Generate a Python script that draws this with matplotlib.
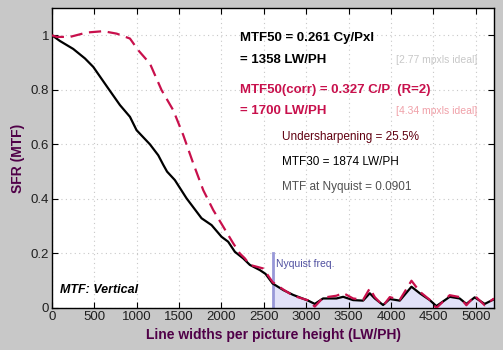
import matplotlib
matplotlib.use("Agg")
import matplotlib.pyplot as plt

# measured MTF (black) and corrected / standardized-sharpening MTF (red dashed)
freq = [0, 94, 250, 389, 487, 664, 802, 920, 998, 1156, 1254, 1313, 1358, 1450, 1588,
        1765, 1883, 2001, 2079, 2158, 2256, 2335, 2453, 2520, 2603, 2728, 2846, 3023,
        3101, 3199, 3357, 3436, 3553, 3671, 3750, 3809, 3907, 3986, 4104, 4242, 4340,
        4458, 4536, 4693, 4811, 4890, 4988, 5106, 5216]
mtf = [1.0, 0.979, 0.95, 0.915, 0.884, 0.805, 0.744, 0.701, 0.652, 0.600, 0.560, 0.525,
       0.50, 0.469, 0.402, 0.329, 0.304, 0.261, 0.243, 0.206, 0.182, 0.158, 0.139, 0.125,
       0.090, 0.066, 0.048, 0.027, 0.015, 0.035, 0.035, 0.041, 0.029, 0.027, 0.054, 0.035,
       0.011, 0.033, 0.027, 0.078, 0.054, 0.029, 0.007, 0.041, 0.035, 0.015, 0.039, 0.015,
       0.032]

freq_corr = [0, 55, 212, 409, 605, 763, 920, 1018, 1156, 1293, 1431, 1549, 1667, 1785,
             1903, 2021, 2139, 2217, 2276, 2335, 2492, 2603, 2728, 2846, 3023, 3101, 3199,
             3357, 3436, 3553, 3671, 3750, 3809, 3907, 3986, 4104, 4242, 4340, 4458, 4536,
             4693, 4811, 4890, 4988, 5106, 5216]
mtf_corr = [1.0, 0.994, 0.994, 1.01, 1.015, 1.006, 0.988, 0.945, 0.896, 0.799, 0.725,
            0.634, 0.530, 0.432, 0.359, 0.298, 0.237, 0.200, 0.182, 0.158, 0.145, 0.095,
            0.068, 0.045, 0.028, 0.005, 0.038, 0.045, 0.055, 0.035, 0.03, 0.072, 0.04,
            0.008, 0.04, 0.03, 0.10, 0.06, 0.03, 0.0, 0.047, 0.04, 0.01, 0.045, 0.01, 0.035]

nyquist = 2603
xmax = 5216
xticks = [0, 500, 1000, 1500, 2000, 2500, 3000, 3500, 4000, 4500, 5000]
yticks = [0, 0.2, 0.4, 0.6, 0.8, 1.0]
ytick_labels = ["0", "0.2", "0.4", "0.6", "0.8", "1"]

plt.rcParams['font.family'] = ['Liberation Sans', 'DejaVu Sans']

W, H = 503, 350
fig = plt.figure(figsize=(W / 100, H / 100), dpi=100, facecolor='#c8c8c8')
ax = fig.add_axes([52 / W, 1 - 308 / H, (494 - 52) / W, (308 - 8) / H])

# shaded area beyond nyquist
fx = [f for f in freq if f >= nyquist]
fy = [m for f, m in zip(freq, mtf) if f >= nyquist]
ax.fill_between(fx, 0, fy, color='#e2e2f8', lw=0, zorder=1)
ax.plot([nyquist, nyquist], [0, 0.2], color='#9898d8', lw=2, zorder=2)

ax.plot(freq, mtf, color='black', lw=1.6, zorder=3)
ax.plot(freq_corr, mtf_corr, color='#c8104c', lw=1.6, ls=(0, (5.5, 3)), zorder=4)

ax.set_xlim(0, xmax)
ax.set_ylim(0, 1.1)
ax.set_xticks(xticks)
ax.set_yticks(yticks)
ax.set_yticklabels(ytick_labels)
ax.grid(True, color='#c8c8c8', ls=(0, (1, 3)), lw=0.8)
ax.tick_params(direction='in', top=True, right=True, length=4, labelsize=9.5,
               labelcolor='#202020', pad=2)
for s in ax.spines.values():
    s.set_linewidth(1.0)

ax.set_xlabel("Line widths per picture height (LW/PH)", fontsize=10, fontweight='bold',
              color='#500048', labelpad=4)
ax.set_ylabel("SFR (MTF)", fontsize=10, fontweight='bold', color='#500048', labelpad=4)


def ptxt(x, y, s, **kw):
    fig.text(x / W, 1 - y / H, s, va='center', **kw)


ptxt(240, 38, "MTF50 = 0.261 Cy/Pxl", fontsize=9.5, fontweight='bold', color='black')
ptxt(240, 60, "= 1358 LW/PH", fontsize=9.5, fontweight='bold', color='black')
ptxt(477, 60, "[2.77 mpxls ideal]", fontsize=7.5, color='#c8c8c8', ha='right')
ptxt(240, 90, "MTF50(corr) = 0.327 C/P  (R=2)", fontsize=9.5, fontweight='bold',
     color='#c8104c')
ptxt(240, 111, "= 1700 LW/PH", fontsize=9.5, fontweight='bold', color='#c8104c')
ptxt(477, 111, "[4.34 mpxls ideal]", fontsize=7.5, color='#f0a0a8', ha='right')
ptxt(282, 137, "Undersharpening = 25.5%", fontsize=8.5, color='#600010')
ptxt(282, 162, "MTF30 = 1874 LW/PH", fontsize=8.5, color='black')
ptxt(282, 187, "MTF at Nyquist = 0.0901", fontsize=8.5, color='#505050')
ptxt(276, 264, "Nyquist freq.", fontsize=7.5, color='#5050a0')
ptxt(60, 290, "MTF: Vertical", fontsize=9, fontweight='bold', style='italic', color='black')

fig.savefig("out.png", dpi=100, facecolor=fig.get_facecolor())
